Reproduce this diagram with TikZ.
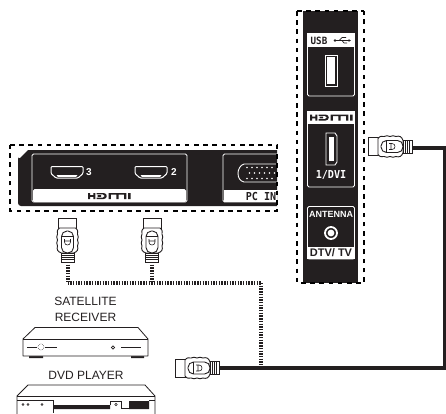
\documentclass[tikz,border=0pt]{standalone}
\usepackage{fontspec}
\usetikzlibrary{arrows.meta}
\setmainfont{Liberation Sans}
\newfontfamily\panelfont[FakeStretch=0.92]{DejaVu Sans Mono}
\definecolor{ink}{HTML}{231F20}
\tikzset{
  dashbox/.style={draw=black,line width=2pt,dash pattern=on 4.6pt off 4.6pt},
  cablethick/.style={draw=ink,line width=3.4pt},
  cabledot/.style={draw=ink,line width=4pt,dash pattern=on 1.4pt off 1.3pt},
  portbox/.style={draw=white,line width=.8pt,rounded corners=1.5pt},
  device/.style={draw=ink,line width=.8pt,line join=round,fill=white},
  lbl/.style={font=\fontsize{12}{12}\selectfont,text=ink,inner sep=0pt},
  plabel/.style={font=\panelfont\bfseries\fontsize{11}{11}\selectfont,inner sep=0pt},
  alabel/.style={font=\bfseries\fontsize{9}{10}\selectfont,inner sep=0pt},
  hdmiconn/.pic={
    \draw[ink,line width=.8pt,fill=white] (0,-9)--(10,-9)--(10,9)--(0,9)--cycle;
    \draw[ink,line width=.9pt,fill=white] (10,-8) .. controls (12,-11) and (14,-10) .. (16,-10)
      .. controls (18,-11) and (20,-11) .. (22,-10) .. controls (24,-11) and (26,-11) .. (28,-10)
      .. controls (31,-11) and (34,-10) .. (35,-6) -- (35,6)
      .. controls (34,10) and (31,11) .. (28,10) .. controls (26,11) and (24,11) .. (22,10)
      .. controls (20,11) and (18,11) .. (16,10) .. controls (14,10) and (12,11) .. (10,8) -- cycle;
    \draw[ink,line width=.9pt,rounded corners=5.5pt] (13,-6) rectangle (35,6);
    \draw[ink,line width=.7pt] (18,-6)--(18,6);
    \draw[ink,line width=.6pt] (23,-3)--(23,3) (21,-3) -- (24,-3) .. controls (28,-3) and (28,3) .. (24,3) -- (21,3);
    \draw[ink,line width=.6pt,fill=white] (35,-6.5) rectangle (44,6.5);
    \foreach \sx in {37,39,41} \draw[ink,line width=.7pt] (\sx,-6.5)--(\sx,6.5);
  },
  hdmilogo/.pic={
    \fill[pic actions,xscale=1.2]
      (0,0) rectangle (1.8,6) (4.4,0) rectangle (6.2,6) (1.8,2.2) rectangle (4.4,3.8)
      (7.2,0) -- (13,0) .. controls (16.5,0) and (16.5,6) .. (13,6) -- (7.2,6) -- (7.2,4.6) -- (12.5,4.6) .. controls (14.5,4.6) and (14.5,1.4) .. (12.5,1.4) -- (7.2,1.4) -- cycle
      (8,2.2) rectangle (11,3.8)
      (17.2,0) -- (32,0) -- (32,6) -- (30.2,6) -- (30.2,1.5) -- (25.5,1.5) -- (25.5,6) -- (23.7,6) -- (23.7,1.5) -- (19,1.5) -- (19,6) -- (17.2,6) -- cycle
      (33.5,0) rectangle (35.5,6);
  },
  hport/.pic={
    \draw[white,line width=1pt,rounded corners=1pt] (0,0)--(32,0)--(32,7)--(27,11.5)--(5,11.5)--(0,7)--cycle;
    \fill[white] (5.5,8.6) -- (26.5,8.6) -- (25,10.4) -- (7,10.4) -- cycle;
  }
}
\begin{document}
\begin{tikzpicture}[x=1pt,y=-1pt]
\useasboundingbox (0,0) rectangle (446,413);
% left panel
\fill[ink,rounded corners=3pt] (18,160) [sharp corners] -- (28,150) -- (277,150) -- (277,206) [rounded corners=3pt] -- (18,206) -- (18,160) -- cycle;
\fill[white,rounded corners=1.5pt] (33,189) -- (186,189) -- (186,202) -- (33,202) -- cycle;
\draw[portbox] (32,154) rectangle (187,202);
\pic[color=ink] at (88,193) {hdmilogo};
\pic at (51,166.5) {hport};
\pic at (135,166.5) {hport};
\node[plabel,text=white,font=\bfseries\fontsize{10}{10}\selectfont] (n3) at (89,172) {3};
\node[plabel,text=white,font=\bfseries\fontsize{10}{10}\selectfont] (n2) at (174,172) {2};
\fill[white] (224,190) rectangle (277,202);
\draw[portbox] (277,154) -- (223,154) -- (223,202) -- (277,202);
\draw[white,line width=.9pt] (277,164) -- (244,164) .. controls (240,165) and (238,170) .. (238,173) .. controls (238,178) and (240,181) .. (244,182) -- (277,182);
\foreach \vx in {247,252,257,262,267,272} {
  \fill[white] (\vx,167.5) circle (.8) (\vx,178.5) circle (.8) (\vx+2.5,173) circle (.8);
}
\node[plabel,text=ink,anchor=east] (pcin) at (276.5,196) {PC IN};
\draw[dashbox] (10,145) -- (277,145) -- (277,211) -- (10,211) -- cycle;
% right panel
\fill[ink] (303,11) rectangle (358,283);
\fill[white] (307,33) rectangle (355,47);
\draw[portbox] (307.5,33.5) rectangle (354.5,96);
\node[plabel,text=ink,anchor=west,font=\panelfont\bfseries\fontsize{10}{10}\selectfont] (usb) at (310.5,40.5) {USB};
\draw[ink,line width=.7pt,-{Latex[length=2.5pt,width=3pt]}] (334,40.5) -- (351,40.5);
\fill[ink] (335,40.5) circle (1.3);
\draw[ink,line width=.7pt] (339,40.5) -- (342,37.5) -- (346,37.5) (342,40.5) -- (344,43) -- (347,43);
\draw[white,line width=.8pt] (325,55) rectangle (337,86);
\fill[white] (327,57) rectangle (335,84);
\fill[white] (307,111) rectangle (355,124);
\draw[portbox] (307.5,111.5) rectangle (354.5,187);
\pic[color=ink] at (310,114.5) {hdmilogo};
\draw[white,line width=.9pt] (326,133) -- (335,133) -- (337,136) -- (337,162) -- (335,165) -- (326,165) -- cycle;
\fill[white] (329,137) rectangle (333.5,161);
\node[plabel,text=white] (dvi) at (331,175) {1/DVI};
\fill[white] (307,247) rectangle (355,259);
\draw[portbox] (307.5,206.5) rectangle (354.5,259);
\node[alabel,text=white] (ant) at (331,214.5) {ANTENNA};
\draw[white,line width=1.8pt] (331,233) circle (6);
\fill[white] (331,233) circle (3.4);
\node[alabel,text=ink,font=\bfseries\fontsize{11}{11}\selectfont] (dtv) at (331,253) {DTV/ TV};
\draw[dashbox] (297,11) -- (364,11) (297,11) -- (297,283) -- (364,283) -- (364,11);
% cables
\coordinate (jr) at (445,148);
\coordinate (jb) at (445,368);
\coordinate (jd) at (261,368);
\coordinate (jc) at (261,283);
\coordinate (ja) at (67.5,283);
\coordinate (jm) at (152,283);
\coordinate (crend) at (412,148);
\coordinate (cbend) at (219,368);
\coordinate (c3end) at (67.5,262);
\coordinate (c2end) at (152,262);
\draw[cablethick,line join=miter] (crend) -- (jr) -- (jb) -- (cbend);
\draw[cabledot] (c3end) -- (ja);
\draw[cabledot] (c2end) -- (jm);
\draw[cabledot] (ja) -- (jc);
\draw[cabledot] (jc) -- (jd);
\pic (cr) at (368,146.5) {hdmiconn};
\pic (cb) at (175,368) {hdmiconn};
\pic[rotate=-90] (c3) at (67.5,218) {hdmiconn};
\pic[rotate=-90] (c2) at (152,218) {hdmiconn};
% devices
\node[lbl] (sat) at (85.5,301) {SATELLITE};
\node[lbl] (rec) at (85.5,317) {RECEIVER};
\fill[ink] (29,356) rectangle (43,358) (131,356) rectangle (144,358);
\draw[device] (23,339) -- (35,327.5) -- (138,327.5) -- (148,339) -- (148,356) -- (23,356) -- cycle;
\draw[device] (23,339) -- (148,339);
\draw[ink,line width=1pt] (27,347) -- (37,347);
\draw[ink,line width=.5pt,densely dotted] (41,347) circle (3);
\draw[ink,line width=1pt] (45,347) -- (57,347);
\draw[ink,line width=.7pt] (113,347.5) circle (1.6);
\draw[ink,line width=1.2pt] (121,347.5) -- (141,347.5);
\node[lbl] (dvd) at (86,375) {DVD PLAYER};
\begin{scope}
\clip (0,380) rectangle (446,413);
\draw[device] (17,396) -- (28,385) -- (145,385) -- (155,396) -- (155,420) -- (17,420) -- cycle;
\draw[device] (17,396.5) -- (155,396.5);
\draw[ink,line width=.7pt] (17,400) -- (53,400) -- (53,413) (149,400) -- (155,400);
\fill[ink] (53,405) rectangle (110,409) (129,401) rectangle (149,409);
\draw[ink,line width=.7pt] (110,405) -- (110,401) -- (121,401) -- (121,408) -- (129,408);
\draw[ink,line width=.6pt] (23,404.5) circle (1) (28,404.5) circle (1) (42,404.5) circle (1) (116,404.5) circle (1.3);
\end{scope}
\end{tikzpicture}
\end{document}
